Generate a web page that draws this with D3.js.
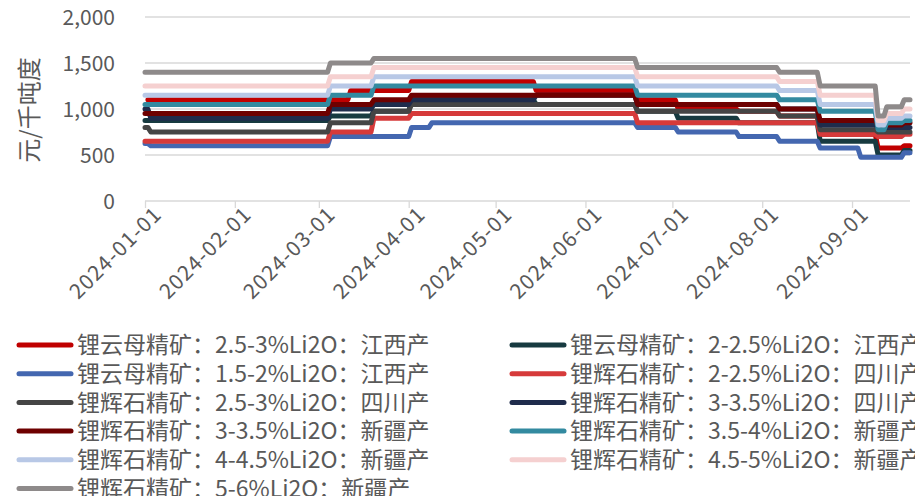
<!DOCTYPE html>
<html>
<head>
<meta charset="utf-8">
<script src="https://cdn.jsdelivr.net/npm/d3@7"></script>
<style>
  html, body { margin: 0; padding: 0; background: #fff; }
  svg text { font-family: "Noto Sans CJK SC", "Noto Sans", sans-serif; fill: #595959; }
</style>
</head>
<body>
<div id="chart"></div>
<script>
// ── data: step changes [date, 元/千吨度] per series ──
var seriesNames = [
  '锂云母精矿：2.5-3%Li2O：江西产',
  '锂云母精矿：2-2.5%Li2O：江西产',
  '锂云母精矿：1.5-2%Li2O：江西产',
  '锂辉石精矿：2-2.5%Li2O：四川产',
  '锂辉石精矿：2.5-3%Li2O：四川产',
  '锂辉石精矿：3-3.5%Li2O：四川产',
  '锂辉石精矿：3-3.5%Li2O：新疆产',
  '锂辉石精矿：3.5-4%Li2O：新疆产',
  '锂辉石精矿：4-4.5%Li2O：新疆产',
  '锂辉石精矿：4.5-5%Li2O：新疆产',
  '锂辉石精矿：5-6%Li2O：新疆产'
];
var seriesColors = ['#c00000', '#173a40', '#4467b0', '#d63a3a', '#454545', '#1f2c4c',
  '#6e0000', '#338aa0', '#b8c8e6', '#f5d0d0', '#8e8a8a'];

var lepi25 = [['2024-01-02',1100],['2024-03-12',1200],['2024-04-02',1300],['2024-05-15',1200],['2024-06-19',1100],
  ['2024-07-03',1000],['2024-07-24',975],['2024-08-07',925],['2024-08-21',725],['2024-09-10',575],['2024-09-19',600]];
var lepi20 = [['2024-01-01',875],['2024-03-05',925],['2024-03-20',975],['2024-04-02',1100],['2024-05-15',1050],
  ['2024-06-19',975],['2024-07-03',900],['2024-07-24',850],['2024-08-21',650],['2024-09-10',500],['2024-09-19',550]];
var lepi15 = [['2024-01-01',625],['2024-01-03',600],['2024-03-05',700],['2024-04-02',800],['2024-04-09',850],
  ['2024-06-19',800],['2024-07-03',750],['2024-07-24',700],['2024-08-07',650],['2024-08-21',575],['2024-09-04',475],['2024-09-19',525]];
var spoSc20 = [['2024-01-01',650],['2024-03-05',750],['2024-03-20',900],['2024-04-02',950],['2024-06-19',850],
  ['2024-08-21',725],['2024-09-10',700],['2024-09-19',725]];
var spoSc25 = [['2024-01-01',800],['2024-01-03',750],['2024-03-05',850],['2024-03-20',975],['2024-04-02',1050],
  ['2024-06-19',975],['2024-08-07',925],['2024-08-21',775],['2024-09-10',750]];
var spoSc30 = [['2024-01-01',1000],['2024-01-03',900],['2024-03-05',1000],['2024-03-20',1050],['2024-04-02',1100],
  ['2024-05-15',1150],['2024-06-19',1050],['2024-08-07',1000],['2024-08-21',825],['2024-09-10',800]];
var spoXj30 = [['2024-01-01',950],['2024-03-05',1050],['2024-03-20',1100],['2024-04-02',1150],['2024-06-19',1050],
  ['2024-08-07',1000],['2024-08-21',875],['2024-09-10',825],['2024-09-19',850]];
var spoXj35 = [['2024-01-01',1050],['2024-03-05',1150],['2024-03-20',1250],['2024-06-19',1150],['2024-08-07',1100],
  ['2024-08-21',975],['2024-09-10',775],['2024-09-13',850],['2024-09-19',875]];
var spoXj40 = [['2024-01-01',1150],['2024-03-05',1250],['2024-03-20',1350],['2024-06-19',1250],['2024-08-07',1200],
  ['2024-08-21',1050],['2024-09-10',825],['2024-09-13',900],['2024-09-19',925]];
var spoXj45 = [['2024-01-01',1250],['2024-03-05',1350],['2024-03-20',1450],['2024-06-19',1350],['2024-08-07',1300],
  ['2024-08-21',1150],['2024-09-10',875],['2024-09-13',950],['2024-09-19',1000]];
var spoXj50 = [['2024-01-01',1400],['2024-03-05',1500],['2024-03-20',1550],['2024-06-19',1450],['2024-08-07',1400],
  ['2024-08-21',1250],['2024-09-10',925],['2024-09-13',1025],['2024-09-19',1100]];

var seriesSteps = [lepi25, lepi20, lepi15, spoSc20, spoSc25, spoSc30, spoXj30, spoXj35, spoXj40, spoXj45, spoXj50];
var yTicks = [0, 500, 1000, 1500, 2000];
var startDate = '2024-01-01', endDate = '2024-09-21';
var yTitle = '元/千吨度';

// ══════════════════════════════════════════════════════════════════
var W = 915, H = 496;
var parse = d3.timeParse('%Y-%m-%d');
var svg = d3.select('#chart').append('svg').attr('width', W).attr('height', H);

var x = d3.scaleTime().domain([parse(startDate), parse(endDate)]).range([145, 910]);
var y = d3.scaleLinear().domain([0, 2000]).range([201, 17]);

// gridlines
svg.append('g').selectAll('line').data(yTicks.slice(1)).join('line')
  .attr('x1', x.range()[0]).attr('x2', x.range()[1])
  .attr('y1', function(d) { return y(d); }).attr('y2', function(d) { return y(d); })
  .attr('stroke', '#d9d9d9').attr('stroke-width', 1.3);

// y axis labels
svg.append('g').selectAll('text').data(yTicks).join('text')
  .attr('x', 115).attr('y', function(d) { return y(d); }).attr('dy', '0.36em')
  .attr('text-anchor', 'end').style('font-size', '21px')
  .text(d3.format(','));

svg.append('text')
  .attr('transform', 'translate(38,110) rotate(-90)')
  .attr('text-anchor', 'middle').style('font-size', '24px')
  .text(yTitle);

// x axis
var xAxis = svg.append('g').attr('transform', 'translate(0,' + y(0) + ')')
  .call(d3.axisBottom(x).ticks(d3.timeMonth.every(1)).tickSize(7).tickFormat(d3.timeFormat('%Y-%m-%d')));
xAxis.select('.domain').attr('stroke', '#d9d9d9').attr('stroke-width', 1.3).attr('d', 'M' + x.range()[0] + ',0H' + x.range()[1]);
xAxis.selectAll('.tick line').attr('stroke', '#d9d9d9').attr('stroke-width', 1.3);
xAxis.selectAll('.tick text')
  .attr('fill', '#595959').style('font-size', '21px').style('letter-spacing', '1.2px')
  .attr('text-anchor', 'end')
  .attr('transform', 'translate(6,3) rotate(-45)')
  .attr('x', 0).attr('y', 9).attr('dy', '0.35em');

// build the step series: one-day ramp at each change
function toPoints(steps) {
  var pts = [];
  steps.forEach(function(s, i) {
    var d = parse(s[0]);
    if (i > 0) pts.push([d3.timeDay.offset(d, -1), steps[i - 1][1]]);
    pts.push([d, s[1]]);
  });
  pts.push([parse(endDate), steps[steps.length - 1][1]]);
  return pts;
}

var line = d3.line()
  .x(function(d) { return x(d[0]); })
  .y(function(d) { return y(d[1]); });

svg.append('g').selectAll('path').data(seriesSteps).join('path')
  .attr('d', function(d) { return line(toPoints(d)); })
  .attr('fill', 'none')
  .attr('stroke', function(d, i) { return seriesColors[i]; })
  .attr('stroke-width', 5)
  .attr('stroke-linejoin', 'round').attr('stroke-linecap', 'round');

// legend, two columns
var leg = svg.append('g').selectAll('g').data(seriesNames).join('g')
  .attr('transform', function(d, i) {
    return 'translate(' + (i % 2 ? 510 : 17) + ',' + (345 + Math.floor(i / 2) * 28.7) + ')';
  });
leg.append('line')
  .attr('x1', 2).attr('x2', 54)
  .attr('stroke', function(d, i) { return seriesColors[i]; })
  .attr('stroke-width', 5).attr('stroke-linecap', 'round');
leg.append('text')
  .attr('x', 60).attr('dy', '0.36em').style('font-size', '23px')
  .text(function(d) { return d; });
</script>
</body>
</html>
